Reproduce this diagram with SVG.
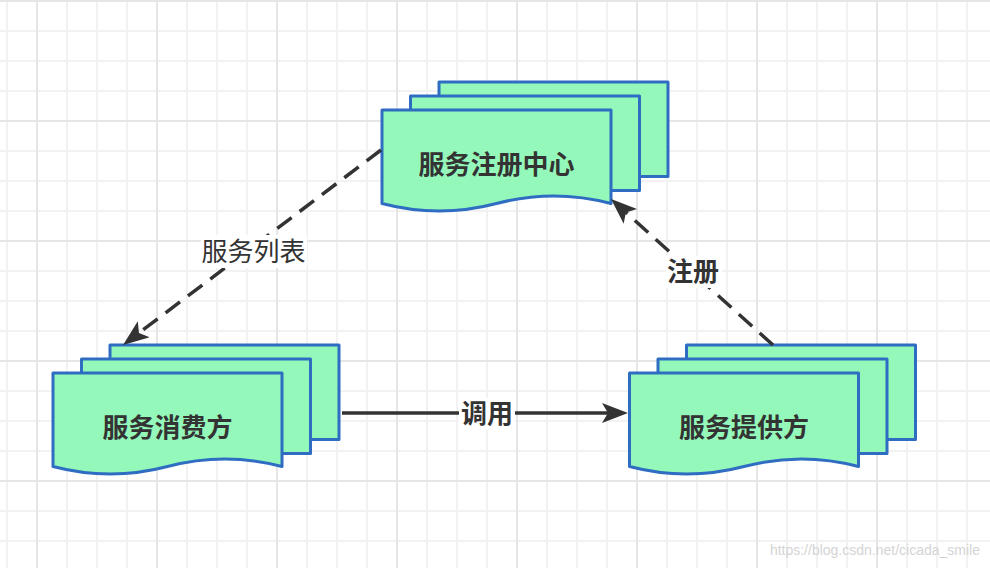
<svg xmlns="http://www.w3.org/2000/svg" width="990" height="568" viewBox="0 0 990 568">
<style>
.doc{fill:#93f8b9;stroke:#2f6dc2;stroke-width:3;stroke-linejoin:round}
.ntxt{font-family:"Noto Sans CJK SC","Noto Sans",sans-serif;font-size:26px;font-weight:bold;fill:#333;text-anchor:middle}
.edge{fill:none;stroke:#333;stroke-width:3.5}
.dash{stroke-dasharray:18 10}
.lbl{font-family:"Noto Sans CJK SC","Noto Sans",sans-serif;font-size:26px;fill:#333;text-anchor:middle}
.lblbg{fill:#fff}
</style>
<defs>
<pattern id="gminor" x="-8" y="-14" width="30" height="30" patternUnits="userSpaceOnUse"><path d="M15,0 V30 M0,15 H30" stroke="#f2f2f2" stroke-width="2" fill="none"/></pattern>
<pattern id="gmajor" x="-23" y="-59" width="120" height="120" patternUnits="userSpaceOnUse"><path d="M60,0 V120 M0,60 H120" stroke="#e6e6e6" stroke-width="2" fill="none"/></pattern>
<marker id="arr" markerUnits="userSpaceOnUse" markerWidth="26" markerHeight="20" viewBox="0 0 26 20" refX="6" refY="10" orient="auto"><path d="M0,0 L26,10 L0,20 L6,10 Z" fill="#333" stroke="none"/></marker>
</defs>
<rect width="990" height="568" fill="#fff"/>
<rect width="990" height="568" fill="url(#gminor)"/>
<rect width="990" height="568" fill="url(#gmajor)"/>

<g id="registry" transform="translate(382,110)">
<rect class="doc" x="57" y="-28" width="229" height="94.5"/>
<rect class="doc" x="28.5" y="-14" width="229" height="94.5"/>
<path class="doc" d="M0,0 H229 V93.5 Q171.75,78.5 114.5,93.5 Q57.25,108.5 0,93.5 Z"/>
<text class="ntxt" x="114.5" y="64">服务注册中心</text>
</g>

<g id="consumer" transform="translate(53,373)">
<rect class="doc" x="57" y="-28" width="229" height="94.5"/>
<rect class="doc" x="28.5" y="-14" width="229" height="94.5"/>
<path class="doc" d="M0,0 H229 V93.5 Q171.75,78.5 114.5,93.5 Q57.25,108.5 0,93.5 Z"/>
<text class="ntxt" x="114.5" y="64">服务消费方</text>
</g>

<g id="provider" transform="translate(629.5,373)">
<rect class="doc" x="57" y="-28" width="229" height="94.5"/>
<rect class="doc" x="28.5" y="-14" width="229" height="94.5"/>
<path class="doc" d="M0,0 H229 V93.5 Q171.75,78.5 114.5,93.5 Q57.25,108.5 0,93.5 Z"/>
<text class="ntxt" x="114.5" y="64">服务提供方</text>
</g>

<g id="connectors">
<line class="edge dash" x1="381" y1="150" x2="139" y2="332.9" marker-end="url(#arr)"/>
<rect class="lblbg" x="201" y="235" width="106" height="33"/>
<text class="lbl" x="253.5" y="260.5">服务列表</text>

<line class="edge dash" x1="773" y1="345" x2="625.9" y2="212.4" marker-end="url(#arr)"/>
<rect class="lblbg" x="666" y="256" width="56" height="32"/>
<text class="lbl" x="693" y="281" font-weight="bold">注册</text>

<line class="edge" x1="342" y1="413" x2="608" y2="413" marker-end="url(#arr)"/>
<rect class="lblbg" x="459" y="398" width="56" height="32"/>
<text class="lbl" x="487" y="423" font-weight="bold">调用</text>
</g>

<text x="980" y="555" font-family="Liberation Sans, Arial, sans-serif" font-size="14" fill="#d4d4d4" text-anchor="end">https://blog.csdn.net/cicada_smile</text>
</svg>
